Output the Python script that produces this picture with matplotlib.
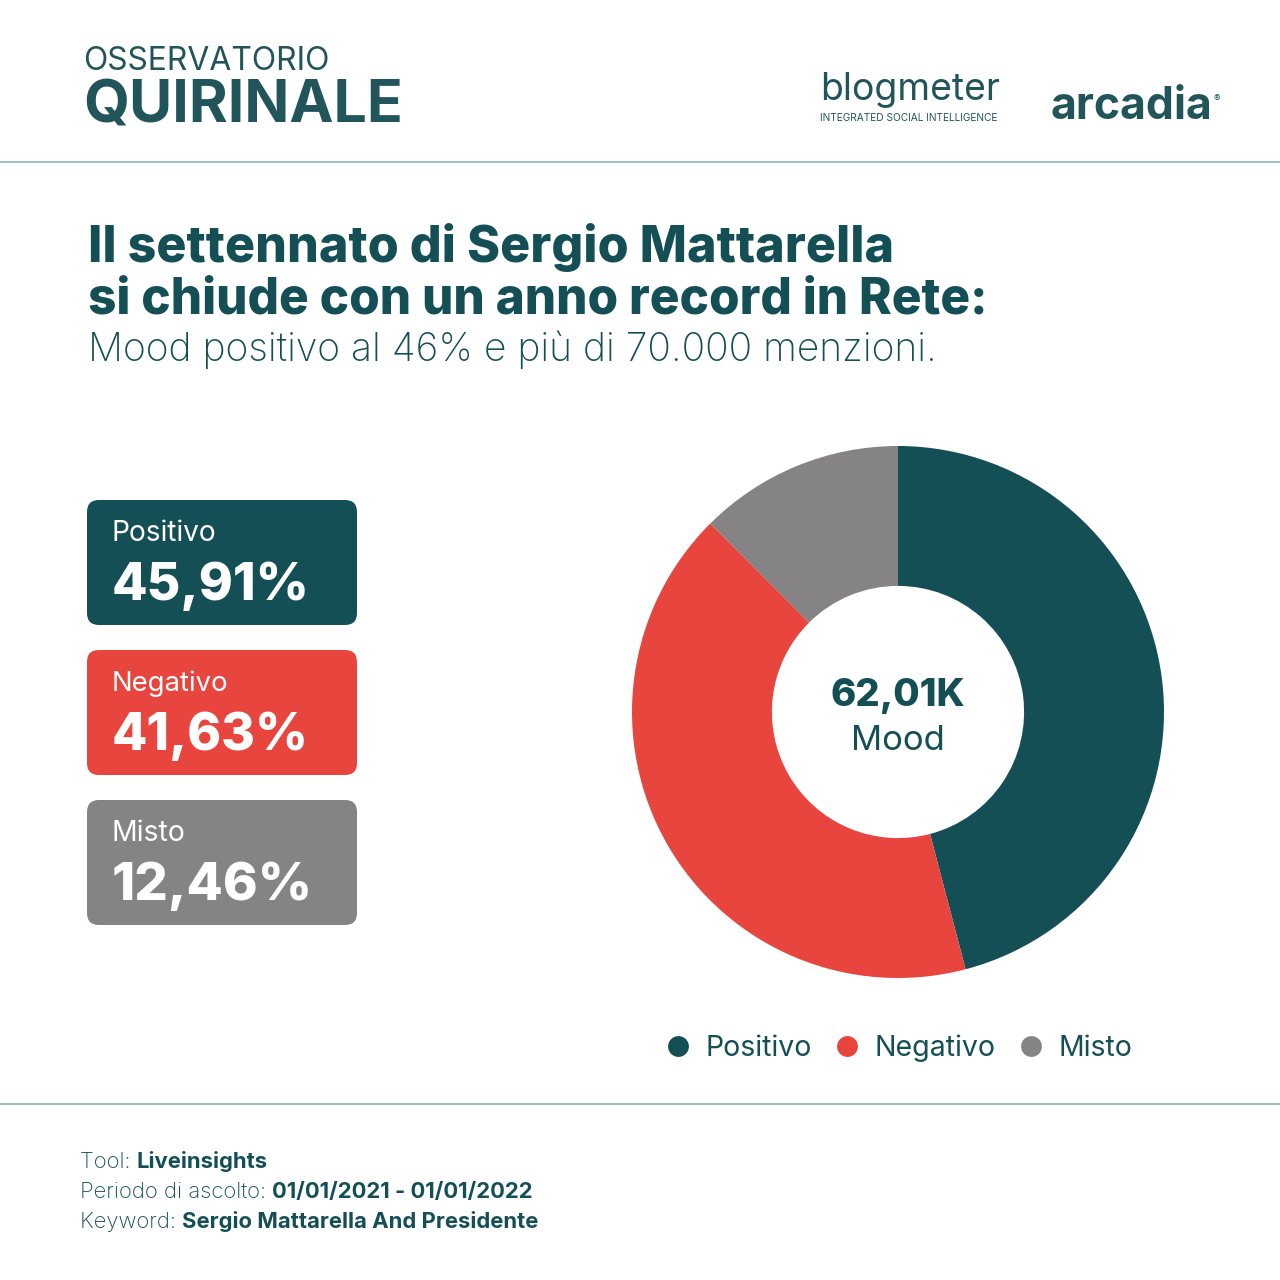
import matplotlib
matplotlib.use("Agg")
import matplotlib.pyplot as plt
from matplotlib.patches import FancyBboxPatch
from matplotlib.lines import Line2D

# ---- data ----
categories = ["Positivo", "Negativo", "Misto"]
shares = [45.91, 41.63, 12.46]
share_labels = ["45,91%", "41,63%", "12,46%"]
total_label = "62,01K"
center_label = "Mood"
colors = ["#144F56", "#E8453E", "#858383"]

title_lines = ["Il settennato di Sergio Mattarella",
               "si chiude con un anno record in Rete:"]
subtitle = "Mood positivo al 46% e più di 70.000 menzioni."
footer_keys = ["Tool: ", "Periodo di ascolto: ", "Keyword: "]
footer_vals = ["Liveinsights", "01/01/2021 - 01/01/2022", "Sergio Mattarella And Presidente"]

TEAL = "#144F56"
LOGO = "#22555A"
FONT = "Inter"

W = H = 1280
fig = plt.figure(figsize=(12.8, 12.8), dpi=100)
fig.patch.set_facecolor("white")
bg = fig.add_axes([0, 0, 1, 1])
bg.set_xlim(0, W)
bg.set_ylim(H, 0)
bg.axis("off")
renderer = fig.canvas.get_renderer()


def fit(x, y, s, width, size, ax=None, **kw):
    ax = ax or bg
    t = ax.text(x, y, s, fontsize=size, family=FONT, **kw)
    w = t.get_window_extent(renderer=renderer).width
    t.set_fontsize(size * width / w)
    return t


# separators
bg.plot([0, W], [162, 162], color="#8FAFB0", lw=1.2)
bg.plot([0, W], [1104, 1104], color="#8FAFB0", lw=1.2)

# header logos
fit(83, 70, "OSSERVATORIO", 247, 25, color=LOGO, va="baseline", ha="left")
fit(83, 122, "QUIRINALE", 320, 45, color=LOGO, va="baseline", ha="left",
    fontweight="bold")
fit(820, 100, "blogmeter", 180, 30, color=LOGO, va="baseline", ha="left")
fit(820, 121, "INTEGRATED SOCIAL INTELLIGENCE", 180, 7, color=LOGO,
    va="baseline", ha="left")
fit(1050, 119, "arcadia", 162, 34, color=LOGO, va="baseline", ha="left",
    fontweight="bold")
bg.text(1214, 99, "®", fontsize=7, family=FONT, color=LOGO, va="center", ha="left")

# title
fit(88, 262, title_lines[0], 805, 35, color=TEAL, fontweight="heavy",
    va="baseline", ha="left")
fit(88, 314, title_lines[1], 902, 35, color=TEAL, fontweight="heavy",
    va="baseline", ha="left")
fit(88, 361, subtitle, 850, 26, color=TEAL, fontweight="light",
    va="baseline", ha="left")

# boxes
box_tops = [500, 650, 800]
label_w = [105, 117, 74]
value_w = [198, 197, 201]
for cat, lab, col, top, lw_, vw in zip(categories, share_labels, colors,
                                       box_tops, label_w, value_w):
    bg.add_patch(FancyBboxPatch((87 + 12, top + 12), 270 - 24, 125 - 24,
                                boxstyle="round,pad=12", facecolor=col,
                                edgecolor="none"))
    fit(112, top + 41, cat, lw_, 19, color="white", va="baseline", ha="left")
    fit(112, top + 100, lab, vw, 42, color="white", fontweight="heavy",
        va="baseline", ha="left")

# donut
cx, cy, r = 898, 712, 266
pax = fig.add_axes([(cx - r) / W, (H - cy - r) / H, 2 * r / W, 2 * r / H])
wedges, _ = pax.pie(shares, colors=colors, startangle=90, counterclock=False,
                    radius=1, wedgeprops=dict(width=0.526, edgecolor="none"))
pax.set_xlim(-1, 1)
pax.set_ylim(-1, 1)
pax.set_aspect("equal")
pax.axis("off")
fit(0, 0.06, total_label, 135, 28, ax=pax, color=TEAL, fontweight="heavy",
    ha="center", va="center")
fit(0, -0.11, center_label, 94, 26, ax=pax, color=TEAL, ha="center",
    va="center")

# legend
handles = [Line2D([], [], marker="o", linestyle="none", markersize=15,
                  markerfacecolor=c, markeredgecolor="none") for c in colors]
leg = fig.legend(handles, categories, loc="center", ncol=3,
                 bbox_to_anchor=(898 / W, 1 - 1048 / H), frameon=False,
                 prop=dict(family=FONT, size=20.5), handletextpad=0.45,
                 columnspacing=0.75, handlelength=1.0)
for t in leg.get_texts():
    t.set_color(TEAL)

# footer
ys = [1168, 1198, 1228]
for k, v, y in zip(footer_keys, footer_vals, ys):
    t = bg.text(80, y, k, fontsize=15.9, family=FONT, color=TEAL, va="baseline",
                ha="left", fontweight="light")
    bb = t.get_window_extent(renderer=renderer)
    bg.text(bb.x1, y, v, fontsize=15.9, family=FONT, color=TEAL, va="baseline",
            ha="left", fontweight="bold")

fig.savefig("out.png", dpi=100, facecolor="white")
